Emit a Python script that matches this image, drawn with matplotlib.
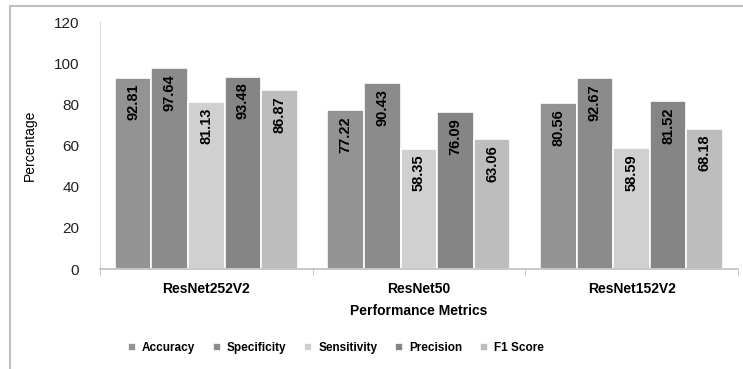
import numpy as np
import matplotlib.pyplot as plt
from matplotlib.lines import Line2D

models = ["ResNet252V2", "ResNet50", "ResNet152V2"]
metrics = ["Accuracy", "Specificity", "Sensitivity", "Precision", "F1 Score"]
accuracy = [92.81, 77.22, 80.56]
specificity = [97.64, 90.43, 92.67]
sensitivity = [81.13, 58.35, 58.59]
precision = [93.48, 76.09, 81.52]
f1_score = [86.87, 63.06, 68.18]
colors = ["#939393", "#8b8b8b", "#d0d0d0", "#858585", "#bdbdbd"]

series = [accuracy, specificity, sensitivity, precision, f1_score]

plt.rcParams['font.family'] = ['Liberation Sans', 'DejaVu Sans']

fig = plt.figure(figsize=(7.43, 3.69), dpi=100)
ax = fig.add_axes([0.1346, 0.271, 0.8584, 0.669])

x = np.arange(len(models))
width = 0.172
for i, (vals, name) in enumerate(zip(series, metrics)):
    pos = x + (i - 2) * width
    bars = ax.bar(pos, vals, width, color=colors[i], edgecolor='white',
                  linewidth=1.2, label=name)
    for b, v in zip(bars, vals):
        ax.text(b.get_x() + b.get_width() / 2, v - 2.8, f"{v:.2f}",
                rotation=90, ha='center', va='top', fontsize=10.5,
                fontweight='bold', color='black')

ax.set_xlim(-0.5, 2.5)
ax.set_ylim(0, 120)
ax.set_yticks(range(0, 121, 20))
ax.tick_params(axis='y', length=0, pad=15, labelsize=11, colors='#222222')
ax.set_xticks(x)
ax.set_xticklabels(models, fontsize=10, fontweight='bold')
ax.set_xticks([-0.5, 0.5, 1.5, 2.5], minor=True)
ax.tick_params(axis='x', which='major', length=0, pad=9)
ax.tick_params(axis='x', which='minor', length=5, color='#bfbfbf')

for s in ['top', 'right']:
    ax.spines[s].set_visible(False)
ax.spines['left'].set_color('#d9d9d9')
ax.spines['bottom'].set_color('#bfbfbf')
ax.spines['bottom'].set_linewidth(1.2)

ax.set_ylabel("Percentage", fontsize=10, labelpad=12)
ax.set_xlabel("Performance Metrics", fontsize=10, fontweight='bold', labelpad=6)

fig.legend(loc='center', bbox_to_anchor=(0.452, 0.057), ncol=5, frameon=False,
           handlelength=0.7, handleheight=0.7, handletextpad=0.5, columnspacing=1.5,
           prop={'size': 8.5, 'weight': 'bold'})

# outer frame (left and top edges)
fig.add_artist(Line2D([10 / 743, 10 / 743], [0, 1 - 6 / 369], color='#c0c0c0', lw=1.5))
fig.add_artist(Line2D([10 / 743, 1], [1 - 6 / 369, 1 - 6 / 369], color='#c0c0c0', lw=1.5))

fig.savefig("out.png", dpi=100)
